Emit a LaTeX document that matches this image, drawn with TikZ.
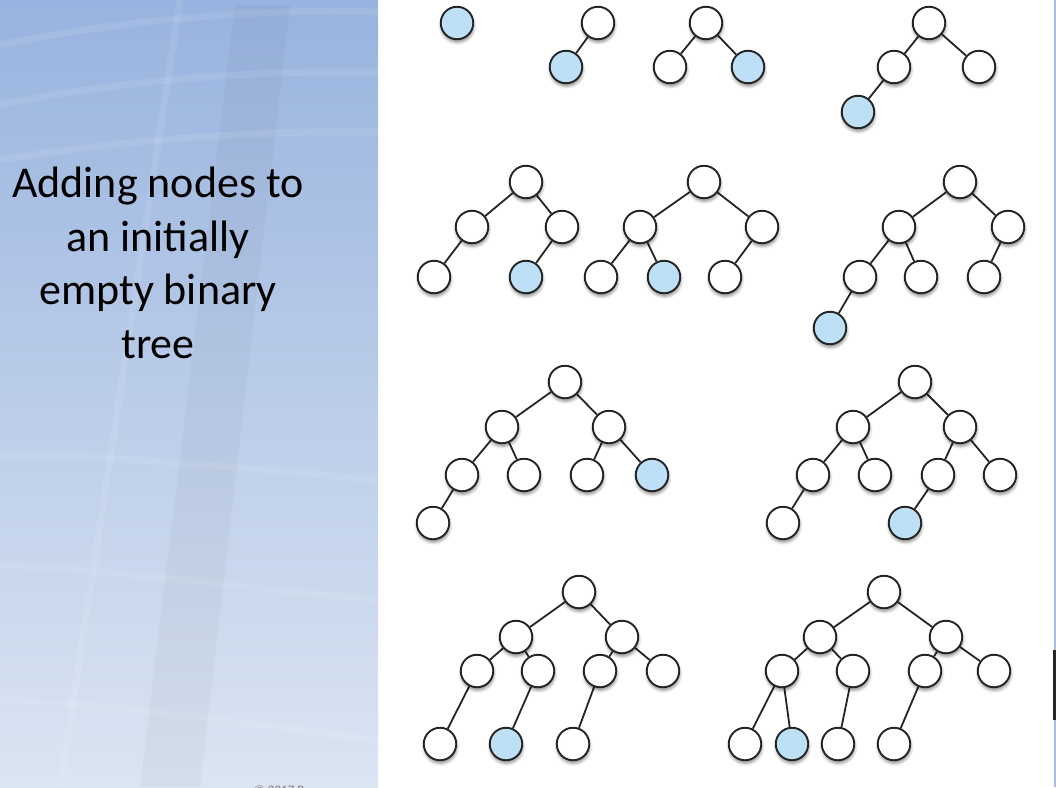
\documentclass[tikz,border=0pt]{standalone}
\usepackage{fontspec}
\setmainfont{Carlito}
\usetikzlibrary{shadows.blur}
\pgfdeclarelayer{background}
\pgfsetlayers{background,main}

\definecolor{panelTop}{RGB}{152,179,223}
\definecolor{panelBot}{RGB}{219,229,242}
\definecolor{nodeBlue}{RGB}{190,224,247}
\definecolor{ink}{RGB}{36,36,36}
\definecolor{edgeStrip}{RGB}{168,190,226}

\tikzset{
  tnode/.style={circle, draw=ink, line width=1.9pt, fill=white,
    minimum size=32.5pt, inner sep=0pt,
    blur shadow={shadow xshift=0.5pt, shadow yshift=-3pt,
      shadow blur radius=3pt, shadow opacity=45}},
  newnode/.style={tnode, fill=nodeBlue},
  edge/.style={draw=ink, line width=1.8pt},
  caption/.style={font=\fontsize{44}{53}\selectfont, anchor=base, inner sep=0pt},
  band/.style={white, opacity=0.09, line width=7pt}
}

\begin{document}
\begin{tikzpicture}[x=1pt, y=-1pt]
\useasboundingbox (0,0) rectangle (1056,787);

% left panel with a faint curved-glass facade
\shade[top color=panelTop, bottom color=panelBot] (0,0) rectangle (378,787);
\begin{scope}[band]
  \draw (0,45) .. controls (120,20) and (260,8) .. (378,12);
  \draw (0,105) .. controls (120,80) and (260,70) .. (378,72);
  \draw (0,160) .. controls (120,140) and (260,130) .. (378,132);
  \draw (0,455) .. controls (120,455) and (260,470) .. (378,480);
  \draw (0,565) .. controls (120,570) and (260,590) .. (378,600);
  \draw (0,700) .. controls (120,705) and (260,725) .. (378,740);
  \draw (180,0) -- (60,787);
\end{scope}
\fill[ink, opacity=0.035] (235,5) -- (290,5) -- (200,787) -- (140,787) -- cycle;

% right edge strip
\fill[edgeStrip] (1054,0) rectangle (1056,787);
\fill[black!85] (1053,650) rectangle (1056,720);

% caption
\node[caption] (title1) at (158,197) {Adding nodes to};
\node[caption] (title2) at (158,251) {an initially};
\node[caption] (title3) at (158,304) {empty binary};
\node[caption] (title4) at (158,358) {tree};
\node[anchor=base west, font=\fontsize{13}{15}\selectfont, text=gray, inner sep=0pt] (copy) at (254,794) {© 2017 P};

% tree 1
\node[newnode] (a1) at (457,23) {};
% tree 2
\node[tnode] (b1) at (598,23) {};
\node[newnode] (b2) at (566,67) {};
% tree 3
\node[tnode] (c1) at (706,23) {};
\node[tnode] (c2) at (670,67) {};
\node[newnode] (c3) at (748,67) {};
% tree 4
\node[tnode] (d1) at (929,23) {};
\node[tnode] (d2) at (894,67) {};
\node[tnode] (d3) at (979,67) {};
\node[newnode] (d4) at (858,112) {};
% tree 5
\node[tnode] (e1) at (526,182) {};
\node[tnode] (e2) at (472,227) {};
\node[tnode] (e3) at (562,227) {};
\node[tnode] (e4) at (434,277) {};
\node[newnode] (e5) at (526,277) {};
% tree 6
\node[tnode] (f1) at (704,182) {};
\node[tnode] (f2) at (640,227) {};
\node[tnode] (f3) at (762,227) {};
\node[tnode] (f4) at (601,277) {};
\node[newnode] (f5) at (664,277) {};
\node[tnode] (f6) at (725,277) {};
% tree 7
\node[tnode] (g1) at (960,182) {};
\node[tnode] (g2) at (899,227) {};
\node[tnode] (g3) at (1008,227) {};
\node[tnode] (g4) at (860,277) {};
\node[tnode] (g5) at (921,277) {};
\node[tnode] (g6) at (984,277) {};
\node[newnode] (g7) at (830,328) {};
% tree 8
\node[tnode] (h1) at (565,382) {};
\node[tnode] (h2) at (502,427) {};
\node[tnode] (h3) at (609,427) {};
\node[tnode] (h4) at (462,475) {};
\node[tnode] (h5) at (524,475) {};
\node[tnode] (h6) at (587,475) {};
\node[newnode] (h7) at (652,475) {};
\node[tnode] (h8) at (433,523) {};
% tree 9
\node[tnode] (i1) at (915,382) {};
\node[tnode] (i2) at (853,427) {};
\node[tnode] (i3) at (960,427) {};
\node[tnode] (i4) at (813,475) {};
\node[tnode] (i5) at (875,475) {};
\node[tnode] (i6) at (938,475) {};
\node[tnode] (i7) at (1000,475) {};
\node[tnode] (i8) at (783,523) {};
\node[newnode] (i9) at (905,523) {};
% tree 10
\node[tnode] (j1) at (579,592) {};
\node[tnode] (j2) at (516,637) {};
\node[tnode] (j3) at (622,637) {};
\node[tnode] (j4) at (477,671) {};
\node[tnode] (j5) at (538,671) {};
\node[tnode] (j6) at (600,671) {};
\node[tnode] (j7) at (663,671) {};
\node[tnode] (j8) at (440,744) {};
\node[newnode] (j9) at (506,744) {};
\node[tnode] (j10) at (573,744) {};
% tree 11
\node[tnode] (k1) at (884,592) {};
\node[tnode] (k2) at (820,637) {};
\node[tnode] (k3) at (946,637) {};
\node[tnode] (k4) at (782,671) {};
\node[tnode] (k5) at (853,671) {};
\node[tnode] (k6) at (925,671) {};
\node[tnode] (k7) at (994,671) {};
\node[tnode] (k8) at (745,744) {};
\node[newnode] (k9) at (792,744) {};
\node[tnode] (k10) at (838,744) {};
\node[tnode] (k11) at (894,744) {};

% edges
\begin{pgfonlayer}{background}
\foreach \p/\c in {b1/b2, c1/c2, c1/c3, d1/d2, d1/d3, d2/d4,
  e1/e2, e1/e3, e2/e4, e3/e5,
  f1/f2, f1/f3, f2/f4, f2/f5, f3/f6,
  g1/g2, g1/g3, g2/g4, g2/g5, g3/g6, g4/g7,
  h1/h2, h1/h3, h2/h4, h2/h5, h3/h6, h3/h7, h4/h8,
  i1/i2, i1/i3, i2/i4, i2/i5, i3/i6, i3/i7, i4/i8, i6/i9,
  j1/j2, j1/j3, j2/j4, j2/j5, j3/j6, j3/j7, j4/j8, j5/j9, j6/j10,
  k1/k2, k1/k3, k2/k4, k2/k5, k3/k6, k3/k7, k4/k8, k4/k9, k5/k10, k6/k11}
  \draw[edge] (\p) -- (\c);
\end{pgfonlayer}
\end{tikzpicture}
\end{document}
